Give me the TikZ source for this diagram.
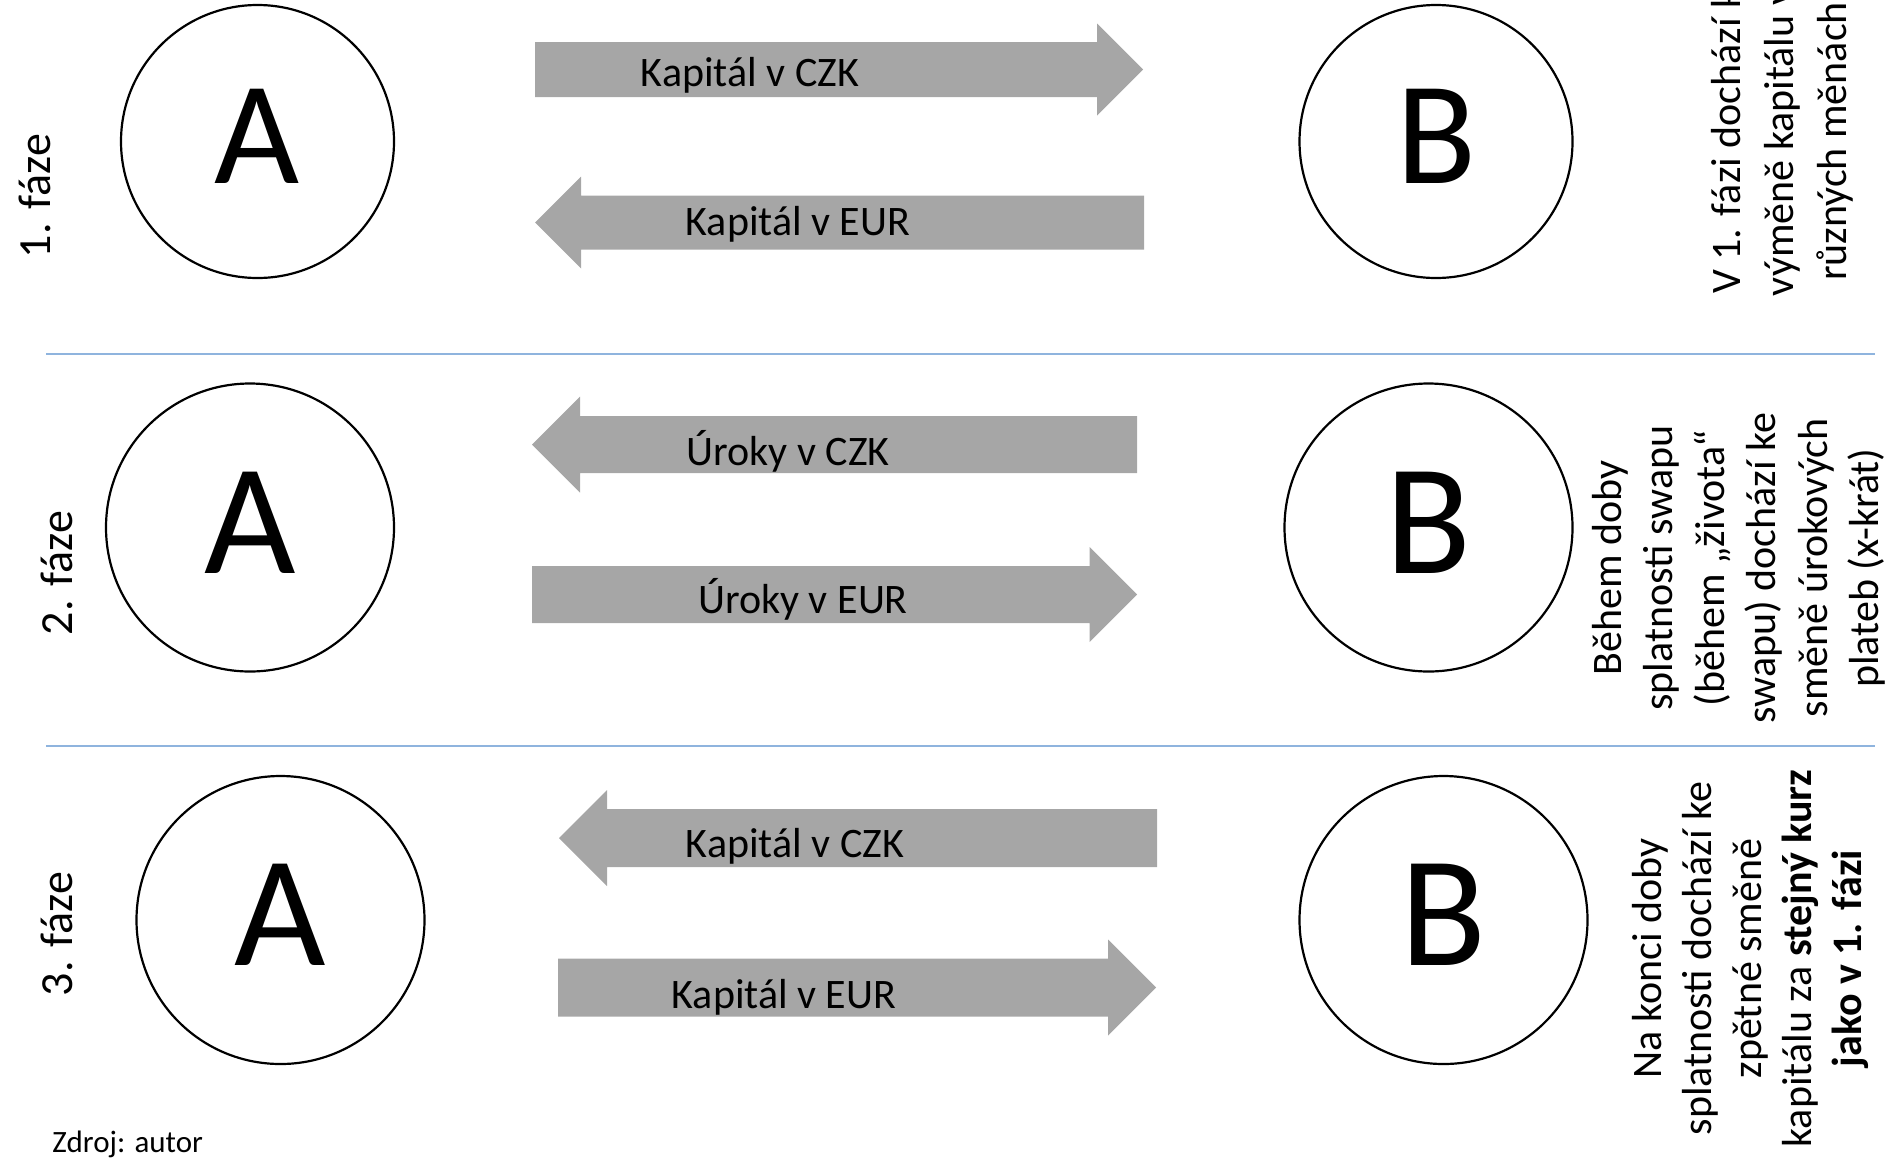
\documentclass[tikz,border=0pt]{standalone}
\usepackage{fontspec}
\setmainfont{Carlito}
\usepackage{tikz}
\usetikzlibrary{shapes}
\definecolor{flowgray}{RGB}{166,166,166}
\definecolor{ruleblue}{RGB}{143,180,222}
\tikzstyle{party} = [circle, draw, line width=1.1pt, inner sep=0pt, text depth=5pt]
\tikzstyle{flow} = [fill=flowgray]
\tikzstyle{flowtext} = [anchor=base, inner sep=0pt, font=\fontsize{21}{25}\selectfont]
\tikzstyle{phase} = [rotate=90, anchor=base, inner sep=0pt, font=\fontsize{23}{27}\selectfont]
\tikzstyle{note} = [rotate=90, align=center, inner sep=0pt]
\tikzstyle{sep} = [draw=ruleblue, line width=1pt]
% block arrows: tail x, tip x, y, half shaft, half head
\newcommand{\rightflow}[5]{\fill[flow] (#1,#3-#4) -- (#2-#5,#3-#4) -- (#2-#5,#3-#5) -- (#2,#3) -- (#2-#5,#3+#5) -- (#2-#5,#3+#4) -- (#1,#3+#4) -- cycle;}
\newcommand{\leftflow}[5]{\fill[flow] (#1,#3-#4) -- (#2+#5,#3-#4) -- (#2+#5,#3-#5) -- (#2,#3) -- (#2+#5,#3+#5) -- (#2+#5,#3+#4) -- (#1,#3+#4) -- cycle;}

\begin{document}
\begin{tikzpicture}[x=0.5pt, y=-0.5pt]
\useasboundingbox (0,0) rectangle (1893,1157);
% 1. faze
\node [phase] (ph1) at (50,196) {1. fáze};
\node [party, minimum size=136.5pt, font=\fontsize{73.5}{80}\selectfont] (a1) at (257.5,141.5) {A};
\node [party, minimum size=136.5pt, font=\fontsize{73.5}{80}\selectfont] (b1) at (1436,141.5) {B};
\rightflow{535}{1143}{69.5}{27.5}{46}
\leftflow{1144}{535}{222.5}{27}{46}
\node [flowtext] (k1czk) at (750,86) {Kapitál v CZK};
\node [flowtext] (k1eur) at (798,235) {Kapitál v EUR};
\node [note, font=\fontsize{21}{26.5}\selectfont] (note1) at (1782,141.5) {V 1. fázi dochází k\\výměně kapitálu v\\různých měnách};
\draw [sep] (46,354) -- (1875,354);
% 2. faze
\node [phase] (ph2) at (72,573) {2. fáze};
\node [party, minimum size=144pt, font=\fontsize{79}{86}\selectfont] (a2) at (250,527.5) {A};
\node [party, minimum size=144pt, font=\fontsize{79}{86}\selectfont] (b2) at (1428.5,527.5) {B};
\leftflow{1137}{532}{444.5}{28.5}{48}
\rightflow{532}{1137}{594.5}{28.5}{47.5}
\node [flowtext] (u2czk) at (788,465) {Úroky v CZK};
\node [flowtext] (u2eur) at (803,613) {Úroky v EUR};
\node [note, font=\fontsize{21}{25.75}\selectfont] (note2) at (1739,568) {Během doby\\splatnosti swapu\\(během „života“\\swapu) dochází ke\\směně úrokových\\plateb (x-krát)};
\draw [sep] (46,746) -- (1875,746);
% 3. faze
\node [phase] (ph3) at (72,934) {3. fáze};
\node [party, minimum size=144pt, font=\fontsize{79}{86}\selectfont] (a3) at (280.5,920) {A};
\node [party, minimum size=144pt, font=\fontsize{79}{86}\selectfont] (b3) at (1443.5,920) {B};
\leftflow{1157}{559}{838}{29}{48}
\rightflow{558}{1156}{987.5}{29}{48}
\node [flowtext] (k3czk) at (795,857) {Kapitál v CZK};
\node [flowtext] (k3eur) at (784,1008) {Kapitál v EUR};
\node [note, font=\fontsize{21}{25}\selectfont] (note3) at (1750,958.5) {Na konci doby\\splatnosti dochází ke\\zpětné směně\\kapitálu za \textbf{stejný kurz}\\\textbf{jako v 1. fázi}};
\node [anchor=base west, inner sep=0pt, font=\fontsize{15.5}{18}\selectfont] (zdroj) at (52,1152) {Zdroj: autor};
\end{tikzpicture}
\end{document}
